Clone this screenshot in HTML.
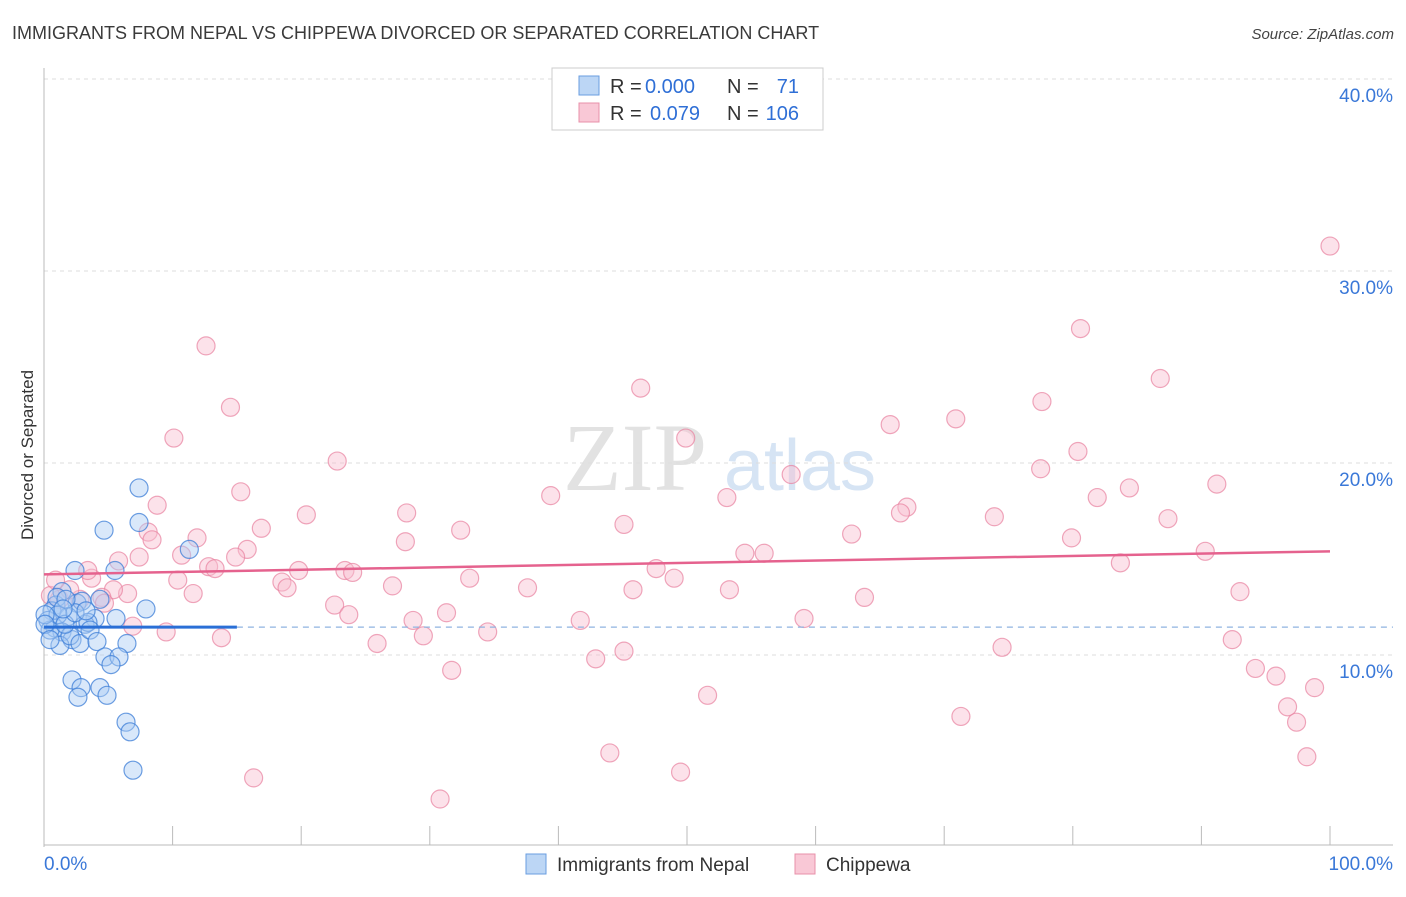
<!DOCTYPE html>
<html><head><meta charset="utf-8"><style>
body{margin:0;background:#fff;font-family:"Liberation Sans",sans-serif}
</style></head><body>
<svg id="chart" width="1406" height="892" xmlns="http://www.w3.org/2000/svg" font-family="Liberation Sans, sans-serif">
<text x="12" y="39" font-size="18" fill="#3a3a3a">IMMIGRANTS FROM NEPAL VS CHIPPEWA DIVORCED OR SEPARATED CORRELATION CHART</text>
<text x="1394" y="39" font-size="15" fill="#444" text-anchor="end" font-style="italic">Source: ZipAtlas.com</text>
<text transform="translate(33,455) rotate(-90)" font-size="17" fill="#333" text-anchor="middle">Divorced or Separated</text>
<g><text x="635" y="490" font-size="96" fill="#e2e2e2" font-family="Liberation Serif, serif" text-anchor="middle">ZIP</text><text x="800" y="490" font-size="72" fill="#d6e4f4" text-anchor="middle">atlas</text></g>
<g id="grid"></g><g id="axes"></g><g id="marks"></g>
<g>
<rect x="552" y="68" width="271" height="62" fill="#fff" stroke="#ccc"/>
<rect x="579" y="76" width="20" height="19" fill="#bcd6f5" stroke="#6a9ee0"/>
<rect x="579" y="103" width="20" height="19" fill="#f9c8d6" stroke="#e890aa"/>
<text x="610" y="93" font-size="20" fill="#333">R =</text>
<text x="645" y="93" font-size="20" fill="#2f6fd6">0.000</text>
<text x="727" y="93" font-size="20" fill="#333">N =</text>
<text x="799" y="93" font-size="20" fill="#2f6fd6" text-anchor="end">71</text>
<text x="610" y="120" font-size="20" fill="#333">R =</text>
<text x="650" y="120" font-size="20" fill="#2f6fd6">0.079</text>
<text x="727" y="120" font-size="20" fill="#333">N =</text>
<text x="799" y="120" font-size="20" fill="#2f6fd6" text-anchor="end">106</text>
</g>
<g>
<rect x="526" y="854" width="20" height="20" fill="#bcd6f5" stroke="#6a9ee0"/>
<text x="557" y="871" font-size="19" fill="#333">Immigrants from Nepal</text>
<rect x="795" y="854" width="20" height="20" fill="#f9c8d6" stroke="#e890aa"/>
<text x="826" y="871" font-size="19" fill="#333">Chippewa</text>
</g>
</svg>
<script>
const yTicks=[10,20,30,40];
const yTickLabels=["10.0%","20.0%","30.0%","40.0%"];
const xTickLabels=["0.0%","100.0%"];
const nepalX=[7.39,4.67,7.39,11.3,2.41,5.52,1.40,7.93,0.93,2.57,4.35,2.95,3.97,1.87,0.62,0.31,0.86,1.40,2.18,3.19,3.42,1.24,2.02,2.80,0.47,1.09,1.63,2.41,3.58,4.12,6.45,4.74,5.83,5.21,2.18,2.88,2.64,4.35,4.90,6.38,6.69,6.92,1.01,1.71,3.27,1.48,5.60,0.08,0.08,0.47];
const nepalY=[18.7,16.5,16.9,15.5,14.4,14.4,13.3,12.4,12.6,12.7,12.9,12.8,11.9,12.0,12.3,11.8,11.4,11.2,10.8,11.6,11.7,10.5,11.0,10.6,11.3,12.1,11.6,12.2,11.3,10.7,10.6,9.9,9.9,9.5,8.7,8.3,7.8,8.3,7.9,6.5,6.0,4.0,13.0,12.9,12.3,12.4,11.9,12.1,11.6,10.8];
const chipX=[100,80.6,86.8,77.6,70.9,65.8,46.4,49.9,80.4,77.5,58.1,84.4,91.2,53.1,39.4,81.9,67.1,66.6,73.9,87.4,45.1,62.8,79.9,56.0,54.5,90.3,83.7,47.6,49.0,45.8,53.3,63.8,93.0,59.1,41.7,45.1,42.9,74.5,92.4,94.2,95.8,98.8,96.7,97.4,98.2,51.6,71.3,44.0,49.5,30.8,16.3,12.6,14.5,10.1,22.8,15.3,8.8,20.4,28.2,32.4,28.1,16.9,8.1,8.4,11.9,15.8,14.9,10.7,7.4,5.8,12.8,13.3,19.8,23.4,24.0,33.1,10.4,3.7,18.5,18.9,27.1,37.6,11.6,6.5,5.4,4.5,22.6,23.7,31.3,28.7,34.5,29.5,6.9,9.5,13.8,25.9,31.7,4.7,2.8,1.2,0.5,2.0,3.4,0.9];
const chipY=[31.3,27.0,24.4,23.2,22.3,22.0,23.9,21.3,20.6,19.7,19.4,18.7,18.9,18.2,18.3,18.2,17.7,17.4,17.2,17.1,16.8,16.3,16.1,15.3,15.3,15.4,14.8,14.5,14.0,13.4,13.4,13.0,13.3,11.9,11.8,10.2,9.8,10.4,10.8,9.3,8.9,8.3,7.3,6.5,4.7,7.9,6.8,4.9,3.9,2.5,3.6,26.1,22.9,21.3,20.1,18.5,17.8,17.3,17.4,16.5,15.9,16.6,16.4,16.0,16.1,15.5,15.1,15.2,15.1,14.9,14.6,14.5,14.4,14.4,14.3,14.0,13.9,14.0,13.8,13.5,13.6,13.5,13.2,13.2,13.4,13.0,12.6,12.1,12.2,11.8,11.2,11.0,11.5,11.2,10.9,10.6,9.2,12.7,12.9,12.9,13.1,13.4,14.4,13.9];
const nepalTrend=[11.45,11.45], nepalTrendX=[0,15];
const chipTrend=[14.2,15.4];
const NS="http://www.w3.org/2000/svg";
const X=v=>44+v*12.86, Y=v=>847-v*19.2;
function mk(tag,attrs,parent){const e=document.createElementNS(NS,tag);for(const k in attrs)e.setAttribute(k,attrs[k]);document.getElementById(parent).appendChild(e);return e;}
yTicks.forEach((t,i)=>{
 const g=mk('line',{x1:44,x2:1393,y1:Y(t),y2:Y(t),stroke:'#ddd','stroke-dasharray':'4,4'},'grid');
 
 
 const l=mk('text',{x:1393,y:Y(t)+23,'font-size':19,fill:'#3a78d8','text-anchor':'end'},'axes');
 l.textContent=yTickLabels[i];
 
 
});
const ax=mk('line',{x1:44,x2:44,y1:68,y2:847,stroke:'#bbb'},'axes');


const bx=mk('line',{x1:44,x2:1393,y1:845,y2:845,stroke:'#bbb'},'axes');


for(let i=1;i<=10;i++){
 const t=mk('line',{x1:X(i*10),x2:X(i*10),y1:826,y2:845,stroke:'#bbb'},'axes');
 
 
}
[[0,'start',44],[100,'end',1393]].forEach((d,i)=>{
 const l=mk('text',{x:d[2],y:870,'font-size':19,fill:'#3a78d8','text-anchor':d[1]},'axes');
 l.textContent=xTickLabels[i];
 
 
});
chipX.forEach((x,i)=>{
 const c=mk('circle',{cx:X(x),cy:Y(chipY[i]),r:9,fill:'rgba(249,190,208,0.45)',stroke:'rgba(232,130,160,0.7)','stroke-width':1.2},'marks');
 
 
});
nepalX.forEach((x,i)=>{
 const c=mk('circle',{cx:X(x),cy:Y(nepalY[i]),r:9,fill:'rgba(170,204,245,0.45)',stroke:'rgba(60,125,215,0.75)','stroke-width':1.2},'marks');
 
 
});
const dl=mk('line',{x1:X(nepalTrendX[1]),x2:1393,y1:Y(nepalTrend[1]),y2:Y(nepalTrend[1]),stroke:'#8fb3e0','stroke-dasharray':'6,5','stroke-width':1.2},'marks');


const nl=mk('line',{x1:X(nepalTrendX[0]),x2:X(nepalTrendX[1]),y1:Y(nepalTrend[0]),y2:Y(nepalTrend[1]),stroke:'#2a6fd6','stroke-width':3},'marks');


const cl=mk('line',{x1:X(0),x2:X(100),y1:Y(chipTrend[0]),y2:Y(chipTrend[1]),stroke:'#e5628e','stroke-width':2.5},'marks');


</script>
</body></html>
